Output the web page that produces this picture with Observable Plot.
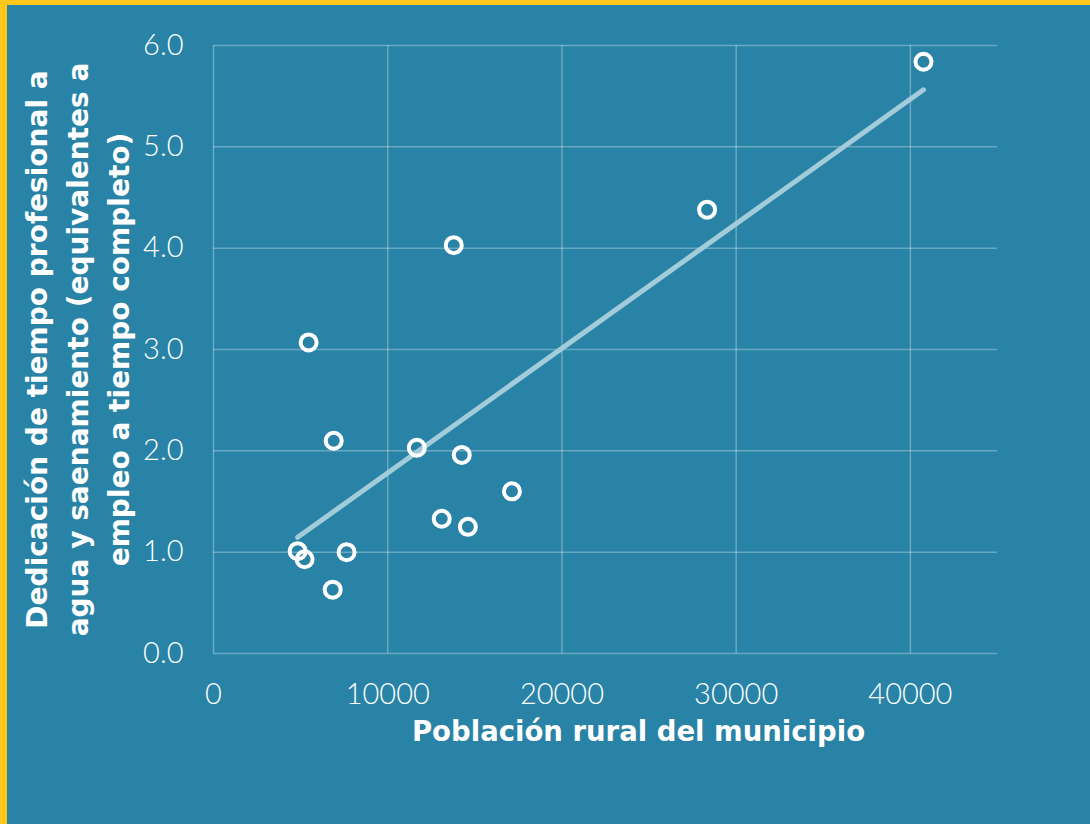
<!DOCTYPE html>
<html><head><meta charset="utf-8">
<script src="https://cdn.jsdelivr.net/npm/d3@7"></script>
<script src="https://cdn.jsdelivr.net/npm/@observablehq/plot@0.6"></script>
<style>
html,body{margin:0;padding:0;background:#2983a6;}
#frame{width:1083px;height:819px;background:#2983a6;border-left:7px solid #ffc61b;border-top:5px solid #ffc61b;position:relative;overflow:hidden;}
#frame svg{display:block;}
</style></head><body><div id="frame"></div>
<script>
const poblacion  = [40750, 28330, 13790, 5460, 6900, 11670, 14250, 17130, 13100, 14600, 4830, 5230, 7640, 6840];
const dedicacion = [5.84, 4.38, 4.03, 3.07, 2.10, 2.03, 1.96, 1.60, 1.33, 1.25, 1.01, 0.93, 1.00, 0.63];
const xTicks = [0, 10000, 20000, 30000, 40000];
const yTicks = [0, 1, 2, 3, 4, 5, 6];
const xTitle = "Población rural del municipio";
const yTitle = ["Dedicación de tiempo profesional a", "agua y saenamiento (equivalentes a", "empleo a tiempo completo)"];

const data = poblacion.map((x, i) => ({x, y: dedicacion[i]}));
const titleFont = "'DejaVu Sans', sans-serif";

const chart = Plot.plot({
  width: 1083, height: 819,
  marginLeft: 206, marginRight: 93, marginTop: 40, marginBottom: 171,
  style: {background: "transparent", color: "white", fontFamily: "Lato, sans-serif", overflow: "visible"},
  x: {domain: [0, 45000]},
  y: {domain: [0, 6]},
  marks: [
    Plot.ruleY(yTicks, {stroke: "white", strokeOpacity: 0.3, strokeWidth: 1.5}),
    Plot.ruleX(xTicks, {stroke: "white", strokeOpacity: 0.3, strokeWidth: 1.5}),
    Plot.axisX(xTicks, {tickSize: 0, tickPadding: 30, fontSize: 29, fontWeight: 300, label: null, tickFormat: d => String(d)}),
    Plot.axisY(yTicks, {tickSize: 0, tickPadding: 30, fontSize: 29, fontWeight: 300, label: null, tickFormat: d => d.toFixed(1)}),
    Plot.linearRegressionY(data, {x: "x", y: "y", ci: 0, stroke: "#a3ccdb", strokeWidth: 5, strokeLinecap: "round"}),
    Plot.dot(data, {x: "x", y: "y", r: 8, stroke: "white", strokeWidth: 4, fill: "none"}),
    Plot.text([xTitle], {text: d => d, frameAnchor: "bottom", textAnchor: "middle", dx: 33, dy: 87, fontSize: 27.5, fontWeight: "bold", fontFamily: titleFont, fill: "white"}),
    Plot.text([yTitle.join("\n")], {text: d => d, frameAnchor: "left", textAnchor: "middle", lineAnchor: "middle", rotate: -90, dx: -139, lineHeight: 1.47, fontSize: 28, fontWeight: "bold", fontFamily: titleFont, fill: "white"})
  ]
});
document.getElementById("frame").appendChild(chart);
</script>
</body></html>
